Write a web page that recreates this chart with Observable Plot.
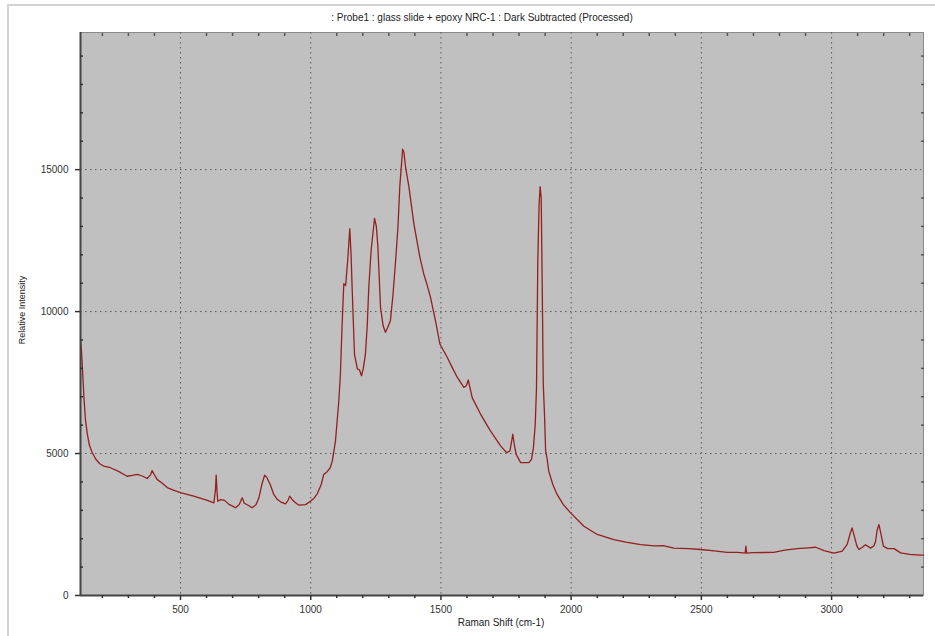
<!DOCTYPE html>
<html>
<head>
<meta charset="utf-8">
<script src="https://cdn.jsdelivr.net/npm/d3@7"></script>
<script src="https://cdn.jsdelivr.net/npm/@observablehq/plot@0.6"></script>
<style>
  html, body { margin: 0; padding: 0; background: #fff; }
  #wrap { position: relative; width: 935px; height: 636px; overflow: hidden; font-family: "Liberation Sans", Arial, sans-serif; }
  #border { position: absolute; left: 7px; top: 4px; right: -5px; bottom: -5px; border-top: 2px solid #d2d2d2; border-left: 2px solid #d2d2d2; }
  #chart { position: absolute; left: 0; top: 0; }
  .title { position: absolute; top: 12px; left: 482px; transform: translateX(-50%); font-size: 10px; color: #222; white-space: nowrap; }
  .xlab { position: absolute; top: 617px; left: 501px; transform: translateX(-50%); font-size: 10px; color: #222; white-space: nowrap; }
  .ylab { position: absolute; left: 22px; top: 310px; transform: translate(-50%, -50%) rotate(-90deg); font-size: 9px; color: #222; white-space: nowrap; }
</style>
</head>
<body>
<div id="wrap">
  <div id="border"></div>
  <div id="chart"></div>
  <div class="title">: Probe1 : glass slide + epoxy NRC-1 : Dark Subtracted (Processed)</div>
  <div class="xlab">Raman Shift (cm-1)</div>
  <div class="ylab">Relative Intensity</div>
</div>
<script>
const ramanShift = [116,120,124,129,135,142,150,161,175,190,205,231,260,295,315,334,355,372,385,391,398,410,430,449,475,500,525,551,575,603,628,634,637,640,643,655,669,686,700,711,725,737,745,760,775,790,801,812,823,832,845,858,870,884,903,913,919,927,935,954,980,999,1012,1025,1040,1050,1063,1075,1083,1095,1108,1114,1120,1127,1134,1142,1150,1155,1159,1168,1179,1187,1195,1202,1210,1217,1223,1232,1245,1252,1258,1268,1278,1287,1296,1306,1316,1326,1335,1342,1353,1358,1364,1377,1396,1419,1434,1445,1460,1479,1496,1524,1545,1563,1588,1598,1605,1612,1620,1652,1690,1729,1752,1765,1771,1776,1782,1789,1806,1838,1848,1855,1862,1867,1872,1877,1881,1885,1889,1893,1898,1902,1908,1914,1930,1946,1970,1998,2049,2100,2164,2210,2267,2320,2354,2394,2450,2497,2550,2599,2640,2668,2671,2674,2700,2778,2820,2868,2910,2939,2971,3009,3041,3060,3072,3079,3087,3097,3105,3118,3130,3150,3163,3169,3175,3182,3189,3199,3215,3240,3265,3300,3342,3353];
const intensity = [9000,8600,7900,7000,6200,5700,5300,5030,4800,4640,4560,4500,4380,4200,4230,4265,4200,4120,4250,4400,4280,4090,3950,3800,3700,3620,3560,3500,3430,3350,3260,3700,4240,3700,3320,3380,3350,3210,3150,3090,3200,3440,3250,3180,3090,3200,3440,3900,4240,4150,3900,3560,3400,3300,3230,3350,3500,3400,3320,3180,3200,3320,3420,3580,3900,4260,4360,4500,4740,5440,6860,7800,9400,10980,10920,11800,12920,12000,10860,8500,7980,7950,7740,8000,8500,9500,10860,12160,13280,13000,12270,10150,9500,9270,9450,9680,10600,11800,12980,14400,15720,15600,15100,14400,13100,11920,11330,11000,10500,9680,8860,8390,8000,7680,7330,7400,7590,7300,6970,6390,5800,5270,5030,5090,5400,5680,5300,4970,4680,4680,4800,5200,6000,7330,11800,13800,14400,14000,10860,7450,6300,5090,4800,4380,3900,3560,3200,2910,2440,2150,1970,1880,1790,1750,1760,1670,1650,1620,1570,1520,1520,1495,1740,1495,1510,1520,1600,1650,1680,1700,1580,1495,1560,1800,2200,2380,2100,1750,1620,1700,1790,1670,1750,1910,2300,2500,2200,1740,1650,1650,1500,1450,1420,1420];

const xMajorTicks = [500, 1000, 1500, 2000, 2500, 3000];
const xMinorTicks = [200, 300, 400, 600, 700, 800, 900, 1100, 1200, 1300, 1400, 1600, 1700, 1800, 1900, 2100, 2200, 2300, 2400, 2600, 2700, 2800, 2900, 3100, 3200, 3300];
const yMajorTicks = [0, 5000, 10000, 15000];
const yMinorTicks = [1000, 2000, 3000, 4000, 6000, 7000, 8000, 9000, 11000, 12000, 13000, 14000, 16000, 17000, 18000, 19000];
const xDomain = [116, 3353];
const yDomain = [0, 19830];

const data = ramanShift.map((x, i) => ({x, y: intensity[i]}));

const gridStyle = {stroke: "#5a5a5a", strokeOpacity: 1, strokeWidth: 1, strokeDasharray: "1.5,3.5"};
const plain = d => String(d);

const chart = Plot.plot({
  width: 935,
  height: 636,
  marginTop: 32,
  marginLeft: 80,
  marginRight: 12,
  marginBottom: 41,
  style: {fontFamily: "Liberation Sans, Arial, sans-serif", fontSize: "10px", color: "#333", background: "transparent"},
  x: {domain: xDomain, label: null},
  y: {domain: yDomain, label: null},
  marks: [
    Plot.frame({fill: "#c0c0c0", stroke: "#8a8a8a"}),
    Plot.gridX(xMajorTicks, gridStyle),
    Plot.gridY(yMajorTicks.filter(d => d > 0), gridStyle),
    Plot.line(data, {x: "x", y: "y", stroke: "#931f1f", strokeWidth: 1.3}),
    Plot.ruleY([yDomain[0]], {stroke: "#444", strokeWidth: 2}),
    Plot.ruleX([xDomain[0]], {stroke: "#444", strokeWidth: 2}),
    Plot.axisX(xMajorTicks, {anchor: "bottom", tickSize: 5, tickPadding: 5, tickFormat: plain, stroke: "#333", strokeWidth: 1.5, fill: "#333", label: null}),
    Plot.axisX(xMinorTicks, {anchor: "bottom", tickSize: 3, text: null, stroke: "#333", strokeWidth: 1.5, label: null}),
    Plot.axisX(xMinorTicks, {anchor: "top", tickSize: -3, text: null, stroke: "#555", strokeWidth: 1.5, label: null}),
    Plot.axisY(yMajorTicks, {anchor: "left", tickSize: 5, tickPadding: 7, tickFormat: plain, stroke: "#333", strokeWidth: 1.5, fill: "#333", label: null}),
    Plot.axisY(yMinorTicks, {anchor: "left", tickSize: -3, text: null, stroke: "#333", strokeWidth: 1.5, label: null}),
    Plot.axisY(yMinorTicks, {anchor: "right", tickSize: -3, text: null, stroke: "#555", strokeWidth: 1.5, label: null})
  ]
});
document.getElementById("chart").appendChild(chart);
</script>
</body>
</html>
